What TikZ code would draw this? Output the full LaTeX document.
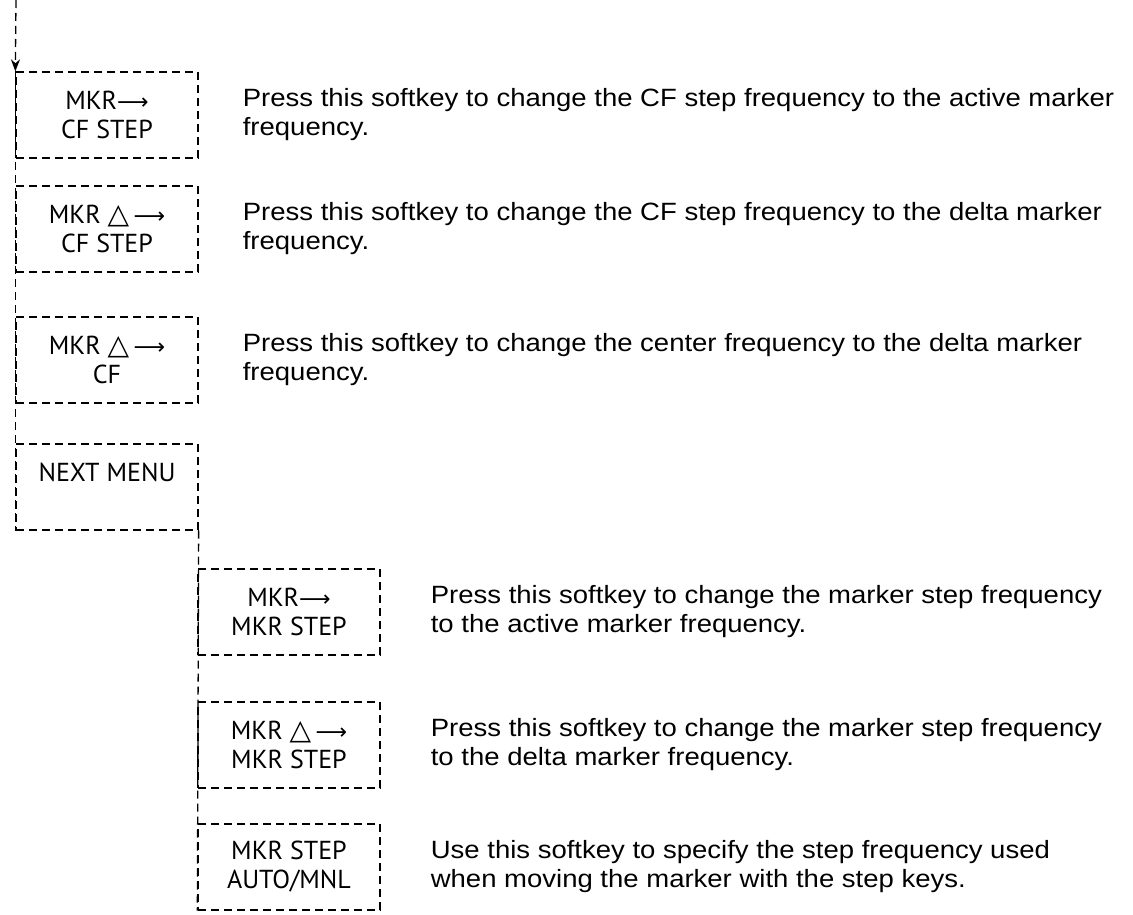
\documentclass[tikz,border=0pt]{standalone}
\usepackage{fontspec}
\setmainfont[FakeStretch=1.1]{Liberation Sans}
\newfontfamily\keyfont{PT Sans}
\newfontfamily\symfont{DejaVu Sans}
\usetikzlibrary{arrows.meta,positioning}

\tikzset{
  dashline/.style={line width=1.3pt,dash pattern=on 8pt off 5pt},
  softkey/.style={dashline,draw,rectangle,minimum width=182pt,minimum height=86pt,
    inner sep=0pt,align=center,font=\keyfont\fontsize{26}{29}\selectfont},
  keydesc/.style={inner sep=0pt,align=left,anchor=west,font=\fontsize{25}{29}\selectfont},
}
\newcommand{\toarr}{{\symfont\fontsize{22}{22}\selectfont ⟶}}
\newcommand{\dtri}{{\symfont\fontsize{28}{28}\selectfont △}}

\begin{document}
\begin{tikzpicture}[x=1pt,y=-1pt]
  \useasboundingbox (0,0) rectangle (1133,915);
  % softkeys, first menu
  \node[softkey] (k1) at (107,115) {MKR\toarr\\CF STEP};
  \node[softkey] (k2) at (107,229) {MKR \dtri\,\toarr\\CF STEP};
  \node[softkey] (k3) at (107,360) {MKR \dtri\,\toarr\\CF};
  \node[softkey] (k4) at (107,487) {NEXT MENU\\\mbox{}};
  % softkeys, next menu
  \node[softkey] (k5) at (289,612) {MKR\toarr\\MKR STEP};
  \node[softkey] (k6) at (289,745) {MKR \dtri\,\toarr\\MKR STEP};
  \node[softkey] (k7) at (289,867) {MKR STEP\\AUTO/MNL};
  % descriptions
  \node[keydesc,right=44pt of k1] (d1) {Press this softkey to change the CF step frequency to the active marker\\frequency.};
  \node[keydesc,right=44pt of k2] (d2) {Press this softkey to change the CF step frequency to the delta marker\\frequency.};
  \node[keydesc,right=44pt of k3] (d3) {Press this softkey to change the center frequency to the delta marker\\frequency.};
  \node[keydesc,right=50pt of k5] (d5) {Press this softkey to change the marker step frequency\\to the active marker frequency.};
  \node[keydesc,right=50pt of k6] (d6) {Press this softkey to change the marker step frequency\\to the delta marker frequency.};
  \node[keydesc,right=50pt of k7] (d7) {Use this softkey to specify the step frequency used\\when moving the marker with the step keys.};
  % menu lines
  \coordinate (top) at (16,0);
  \draw[dashline,-{Stealth[length=12pt,width=9pt]}] (top) -- (k1.north west);
  \draw[dashline] (k1.north west) -- (k4.south west);
  \draw[dashline] (k4.south east) -- (k7.south west);
\end{tikzpicture}
\end{document}
